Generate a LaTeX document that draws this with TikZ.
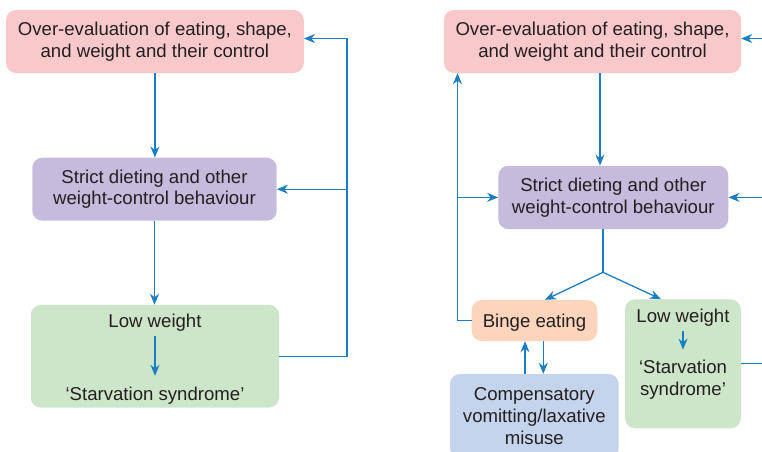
\documentclass[tikz,border=0pt]{standalone}
\usepackage{fontspec}
\setmainfont{Liberation Sans}
\usepackage{tikz}
\usetikzlibrary{positioning,arrows.meta,calc}
\definecolor{lnblue}{RGB}{27,126,194}
\definecolor{txtgray}{RGB}{35,31,32}
\definecolor{pinkbox}{RGB}{249,200,203}
\definecolor{purpbox}{RGB}{197,187,220}
\definecolor{grnbox}{RGB}{205,229,201}
\definecolor{peachbox}{RGB}{253,213,188}
\definecolor{bluebox}{RGB}{197,212,237}
\tikzset{
  box/.style={rounded corners=10pt,inner sep=0pt,align=center,text=txtgray,font=\fontsize{18.6}{21.7}\selectfont,execute at begin node=\rule{0pt}{17.7pt}},
  txt/.style={inner sep=0pt,align=center,text=txtgray,font=\fontsize{18.6}{21.7}\selectfont},
  ln/.style={draw=lnblue,line width=1.3pt},
  arr/.style={ln,-{Stealth[length=11pt,width=9pt,inset=3.5pt]}},
}

\begin{document}
\begin{tikzpicture}[x=1pt,y=-1pt]
  \useasboundingbox (0,0) rectangle (762,451);
  \clip (0,0) rectangle (762,451);
  \node[box,fill=pinkbox,minimum width=297.7pt,minimum height=63pt] (over1) at (154.9,41.5) {Over-evaluation of eating, shape,\\and weight and their control};
  \node[box,fill=purpbox,minimum width=244.4pt,minimum height=63pt] (strict1) at (154.5,189.2) {Strict dieting and other\\weight-control behaviour};
  \node[box,fill=grnbox,minimum width=248.3pt,minimum height=102.7pt] (low1) at (154.9,356.3) {};
  \node[txt,anchor=base] (lw1) at (155,327.3) {Low weight};
  \node[txt,anchor=base] (sv1) at (155,400) {‘Starvation syndrome’};
  \coordinate (r1) at (347,0);
  \draw[arr] (over1.south) -- (over1.south |- strict1.north);
  \draw[arr] (strict1.south) -- (strict1.south |- low1.north);
  \draw[arr,shorten <=4.5pt,shorten >=10.5pt] (lw1.south) -- (sv1.north);
  \draw[arr] (low1.east) -- (low1.east -| r1) |- ([yshift=3pt]over1.east);
  \draw[arr] (r1 |- strict1.east) -- (strict1.east);

  \node[box,fill=pinkbox,minimum width=297pt,minimum height=63pt] (over2) at (592.5,41.5) {Over-evaluation of eating, shape,\\and weight and their control};
  \node[box,fill=purpbox,minimum width=230pt,minimum height=63.3pt] (strict2) at (613.3,197.4) {Strict dieting and other\\weight-control behaviour};
  \node[box,fill=peachbox,minimum width=125.6pt,minimum height=41pt] (binge) at (534.5,320.5) {Binge eating};
  \node[box,fill=bluebox,minimum width=168.7pt,minimum height=84pt] (comp) at (534.3,416) {Compensatory\\vomitting/laxative\\misuse};
  \node[box,fill=grnbox,minimum width=115.7pt,minimum height=129pt] (low2) at (682.9,363.8) {};
  \node[txt,anchor=base] (lw2) at (683,322.7) {Low weight};
  \node[txt,anchor=base] (sv2) at (683,395) {‘Starvation\\syndrome’};
  \coordinate (l2) at (457.5,0);
  \coordinate (e2) at (762,0);
  \coordinate (sp) at (603,272.3);
  \draw[arr] ([xshift=7.5pt]over2.south) -- ([xshift=7.5pt]over2.south |- strict2.north);
  \draw[ln] (strict2.south -| sp) -- (sp);
  \draw[arr] (sp) -- ([xshift=10.5pt]binge.north);
  \draw[arr] (sp) -- ([xshift=-22pt]low2.north);
  \draw[arr] (binge.west) -- (binge.west -| l2) -- (l2 |- over2.south);
  \draw[arr] (l2 |- strict2.west) -- (strict2.west);
  \draw[arr] (e2 |- over2.east) ++(0,-3) -- ([yshift=3pt]over2.east);
  \draw[arr] (e2 |- strict2.east) -- (strict2.east);
  \draw[ln] (low2.east) -- (low2.east -| e2);
  \draw[arr] ([xshift=-9.5pt]binge.south |- comp.north) -- ([xshift=-9.5pt]binge.south);
  \draw[arr] ([xshift=8.8pt]binge.south) -- ([xshift=8.8pt]binge.south |- comp.north);
  \draw[arr,shorten <=4pt,shorten >=10pt] (lw2.south) -- (sv2.north);
\end{tikzpicture}
\end{document}
